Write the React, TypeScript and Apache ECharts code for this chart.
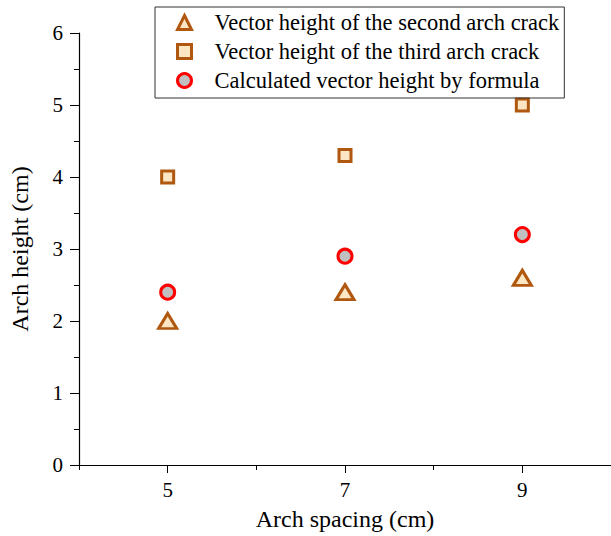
import React, { useEffect, useRef } from "react";
import * as echarts from "echarts";

const spacing = [5, 7, 9];
const secondCrack = [2.0, 2.4, 2.6];
const thirdCrack = [4.0, 4.3, 5.0];
const formula = [2.4, 2.9, 3.2];
const xMajorTicks = [5, 7, 9];
const xMinorTicks = [4, 6, 8, 10];
const seriesNames = [
  "Vector height of the second arch crack",
  "Vector height of the third arch crack",
  "Calculated vector height by formula",
];

const FONT = "'Liberation Serif', 'Times New Roman', serif";
const BROWN = "#B0580F";
const BEIGE = "#FCE6C4";

export default function App() {
  const ref = useRef<HTMLDivElement>(null);
  useEffect(() => {
    if (!ref.current) return;
    const chart = echarts.init(ref.current, null, { renderer: "svg" });
    const pts = (ys: number[]) => spacing.map((x, i) => [x, ys[i]]);
    const legendStyles = [
      { color: BEIGE, borderColor: BROWN, borderWidth: 3, opacity: 1 },
      { color: BEIGE, borderColor: BROWN, borderWidth: 3, opacity: 1 },
      { color: "#C0C0C0", borderColor: "#FF0000", borderWidth: 3, opacity: 1 },
    ];
    const styles = [
      { symbol: "triangle", size: [18, 15], itemStyle: legendStyles[0] },
      { symbol: "rect", size: 12, itemStyle: legendStyles[1] },
      { symbol: "circle", size: 14, itemStyle: legendStyles[2] },
    ];
    const datas = [secondCrack, thirdCrack, formula];
    chart.setOption({
      animation: false,
      grid: { left: 78, right: -1, top: 33, bottom: 70, containLabel: false },
      legend: {
        orient: "vertical",
        left: 155,
        top: 7,
        itemWidth: 14,
        itemHeight: 14,
        itemGap: 6,
        padding: [4, 5, 6, 21],
        borderColor: "#333",
        borderWidth: 1,
        textStyle: { fontFamily: FONT, fontSize: 22.5, color: "#000", padding: [0, 0, 0, 18] },
        data: seriesNames.map((n, i) => ({ name: n, icon: styles[i].symbol, itemStyle: legendStyles[i] })),
      },
      xAxis: [
        {
          type: "value",
          min: 4,
          max: 10,
          name: "Arch spacing (cm)",
          nameLocation: "middle",
          nameGap: 42,
          nameTextStyle: { fontFamily: FONT, fontSize: 24, color: "#000" },
          axisLine: { show: true, lineStyle: { color: "#000", width: 1.2 } },
          axisTick: { show: true, customValues: xMajorTicks, length: 8, lineStyle: { color: "#000" } },
          axisLabel: { customValues: xMajorTicks, margin: 14, fontFamily: FONT, fontSize: 21, color: "#000" },
          splitLine: { show: false },
        },
        {
          type: "value",
          min: 4,
          max: 10,
          position: "bottom",
          axisLine: { show: false },
          axisTick: { show: true, customValues: xMinorTicks, length: 5, lineStyle: { color: "#000" } },
          axisLabel: { show: false },
          splitLine: { show: false },
        },
      ],
      yAxis: {
        type: "value",
        min: 0,
        max: 6,
        interval: 1,
        name: "Arch height (cm)",
        nameLocation: "middle",
        nameGap: 47,
        nameTextStyle: { fontFamily: FONT, fontSize: 24, color: "#000" },
        axisLine: { show: true, lineStyle: { color: "#000", width: 1.2 } },
        axisTick: { show: true, length: 9, lineStyle: { color: "#000" } },
        minorTick: { show: true, splitNumber: 2, length: 5, lineStyle: { color: "#000" } },
        axisLabel: { margin: 16, fontFamily: FONT, fontSize: 21, color: "#000" },
        splitLine: { show: false },
      },
      series: seriesNames.map((n, i) => ({
        name: n,
        type: "scatter",
        xAxisIndex: 0,
        symbol: styles[i].symbol,
        symbolSize: styles[i].size,
        itemStyle: styles[i].itemStyle,
        data: pts(datas[i]),
      })),
    });
    return () => chart.dispose();
  }, []);
  return <div ref={ref} style={{ position: "absolute", left: 0, top: 0, width: 611, height: 536 }} />;
}
